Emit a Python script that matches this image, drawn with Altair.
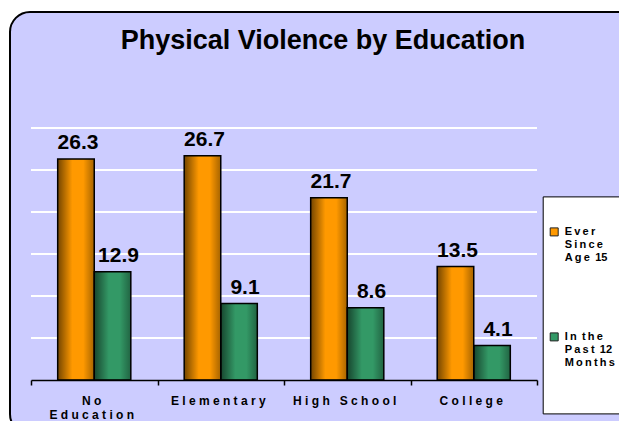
import altair as alt
import pandas as pd

# ---------------- data ----------------
categories = ["No Education", "Elementary", "High School", "College"]
series_names = ["Ever Since Age 15", "In the Past 12 Months"]
ever_since_age_15 = [26.3, 26.7, 21.7, 13.5]
past_12_months = [12.9, 9.1, 8.6, 4.1]
series_colors = ["#FF9900", "#339966"]
grid_values = [5, 10, 15, 20, 25, 30]
title_text = "Physical Violence by Education"
axis_label_lines = {"No Education": ["No", "Education"]}
legend_label_lines = {
    "Ever Since Age 15": ["Ever", "Since", "Age 15"],
    "In the Past 12 Months": ["In the", "Past 12", "Months", "", "", ""],
}

rows = []
for cat, a, b in zip(categories, ever_since_age_15, past_12_months):
    rows.append({"category": cat, "series": series_names[0], "value": a})
    rows.append({"category": cat, "series": series_names[1], "value": b})
df = pd.DataFrame(rows)

NBSP = "\u00a0"
THIN = "\u2009"


# ---------------- helpers ----------------
def spaced(text, gap, letter_gap=" "):
    return gap.join(w if w.isdigit() else letter_gap.join(w) for w in text.split(" "))


def q(s):
    return "'" + s.replace("'", "\\'") + "'"


def label_expr(names, line_map, gap, letter_gap=" "):
    expr = "datum.label"
    for name in reversed(names):
        lines = [spaced(l, gap, letter_gap) for l in line_map.get(name, [name])]
        val = q(lines[0]) if len(lines) == 1 else "[" + ", ".join(q(l) for l in lines) + "]"
        expr = f"datum.label == {q(name)} ? {val} : ({expr})"
    return expr


W, H = 506, 252
FONT = "Liberation Sans"

y_scale = alt.Scale(domain=[0, 30], nice=False, zero=True)

x_enc = alt.X(
    "category:N",
    sort=categories,
    scale=alt.Scale(paddingInner=0, paddingOuter=0),
    axis=alt.Axis(
        title=None,
        grid=False,
        labelAngle=0,
        domainColor="black",
        domainWidth=1.5,
        tickColor="black",
        tickWidth=1.5,
        tickSize=5,
        tickBand="extent",
        labelFont=FONT,
        labelFontSize=12,
        labelFontWeight="bold",
        labelColor="black",
        labelPadding=10,
        labelLineHeight=14,
        labelOffset=-3,
        labelLimit=300,
        labelExpr=label_expr(categories, axis_label_lines, " " + NBSP + " "),
        zindex=1,
    ),
)
xo_enc = alt.XOffset(
    "series:N", sort=series_names, scale=alt.Scale(paddingInner=0, paddingOuter=0.73)
)
y_enc = alt.Y("value:Q", scale=y_scale, axis=None)

panel = (
    alt.Chart(alt.Data(values=[{"panel": 1}]))
    .mark_rect(fill="#CCCCFF", stroke="black", strokeWidth=2, cornerRadius=20)
    .encode(
        x=alt.value(-21), x2=alt.value(W + 105), y=alt.value(-116), y2=alt.value(H + 54)
    )
)

grid = (
    alt.Chart(pd.DataFrame({"value": grid_values}))
    .mark_rule(color="white", strokeWidth=2)
    .encode(y=alt.Y("value:Q", scale=y_scale, axis=None))
)

bars = (
    alt.Chart(df)
    .mark_bar()
    .encode(
        x=x_enc,
        xOffset=xo_enc,
        y=y_enc,
        color=alt.Color(
            "series:N",
            sort=series_names,
            scale=alt.Scale(domain=series_names, range=series_colors),
            legend=alt.Legend(
                title=" ",
                titleFontSize=14,
                titlePadding=10,
                orient="none",
                legendX=511.7,
                legendY=68.4,
                padding=6,
                fillColor="white",
                strokeColor="black",
                symbolType="square",
                symbolSize=64,
                symbolStrokeColor="#222222",
                symbolStrokeWidth=1,
                labelFont=FONT,
                labelFontSize=11,
                labelFontWeight="bold",
                labelColor="black",
                labelOffset=5,
                labelLimit=300,
                rowPadding=67,
                labelExpr=label_expr(
                    series_names, legend_label_lines, " " + THIN, THIN
                ),
            ),
        ),
    )
)

shade_gradient = alt.LinearGradient(
    gradient="linear",
    x1=0,
    x2=1,
    y1=0,
    y2=0,
    stops=[
        alt.GradientStop(color="rgba(0,0,0,0.55)", offset=0),
        alt.GradientStop(color="rgba(0,0,0,0)", offset=0.4),
        alt.GradientStop(color="rgba(0,0,0,0)", offset=0.7),
        alt.GradientStop(color="rgba(0,0,0,0.35)", offset=1),
    ],
)

shade = (
    alt.Chart(df)
    .mark_bar(fill=shade_gradient, stroke="black", strokeWidth=1.5)
    .encode(x=x_enc, xOffset=xo_enc, y=y_enc)
)


def value_labels(series, dx):
    return (
        alt.Chart(df)
        .transform_filter(alt.datum.series == series)
        .mark_text(
            font=FONT,
            fontSize=21,
            fontWeight="bold",
            color="black",
            baseline="alphabetic",
            dy=-10,
            dx=dx,
        )
        .encode(x=x_enc, xOffset=xo_enc, y=y_enc, text=alt.Text("value:Q", format=".1f"))
    )


chart = (
    alt.layer(
        panel,
        grid,
        bars,
        shade,
        value_labels(series_names[0], 2),
        value_labels(series_names[1], 6),
    )
    .properties(
        width=W,
        height=H,
        title=alt.TitleParams(
            text=title_text,
            font=FONT,
            fontSize=27,
            fontWeight="bold",
            color="black",
            anchor="middle",
            frame="group",
            baseline="alphabetic",
            offset=0,
            dx=39,
            dy=65,
            zindex=1,
        ),
        autosize=alt.AutoSizeParams(type="none"),
        padding={"left": 23, "top": 120, "right": 82, "bottom": 41},
    )
    .configure_view(strokeWidth=0)
    .configure(background="white")
)

chart.save("out.html", embed_options={"renderer": "svg", "actions": False})
